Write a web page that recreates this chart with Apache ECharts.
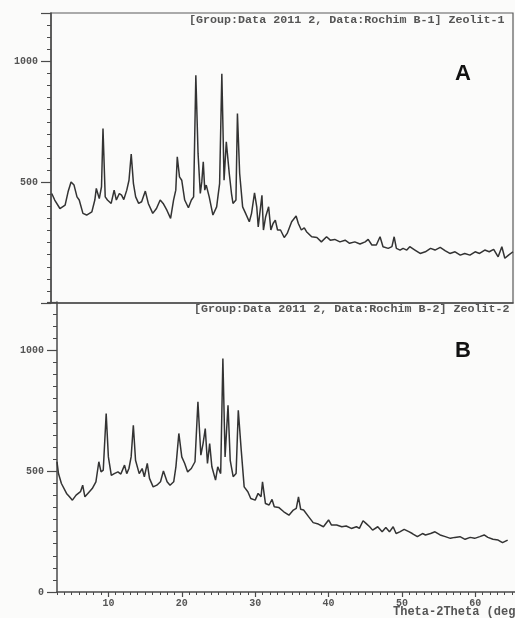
<!DOCTYPE html>
<html>
<head>
<meta charset="utf-8">
<script src="https://cdn.jsdelivr.net/npm/echarts@6/dist/echarts.min.js"></script>
<style>
html,body{margin:0;padding:0;background:#fbfbfa;}
#chart{width:515px;height:618px;}
</style>
</head>
<body>
<div id="chart"></div>
<script>
// ---- Data (2θ in degrees, intensity in counts) ----
const aDeg = [3.1,3.5,4.2,4.9,5.3,5.7,6.1,6.5,6.8,7.3,7.8,8.5,8.9,9.1,9.5,9.8,10.0,10.3,10.6,11.1,11.5,11.8,12.2,12.5,12.8,13.2,13.5,13.8,14.1,14.4,14.8,15.2,15.7,16.1,16.7,17.2,17.7,18.1,18.6,19.1,19.5,19.8,20.0,20.3,20.6,21.0,21.5,21.9,22.2,22.5,22.8,23.1,23.3,23.5,23.7,23.9,24.3,24.8,25.3,25.5,25.7,26.0,26.3,26.6,27.0,27.3,27.5,27.9,28.1,28.4,28.8,29.2,29.7,30.0,30.4,30.7,30.9,31.4,31.6,31.9,32.3,32.6,32.9,33.2,33.5,33.9,34.4,34.8,35.4,36.0,36.3,36.7,37.1,37.4,38.1,38.8,39.4,40.1,40.6,41.2,41.9,42.6,43.2,43.9,44.6,45.3,45.7,46.2,46.8,47.3,47.7,48.4,48.9,49.2,49.5,50.0,50.4,50.9,51.3,52.0,52.7,53.4,54.1,54.7,55.4,56.1,56.7,57.4,58.1,58.7,59.4,60.1,60.7,61.4,62.0,62.6,63.2,63.7,64.1,64.6,65.2];
const aVal = [453,426,391,405,460,501,488,439,426,371,364,377,426,474,432,481,722,439,426,412,467,426,453,446,428,467,508,616,494,439,412,419,463,412,371,391,426,412,384,350,426,467,605,522,508,426,394,426,439,942,618,453,501,584,467,488,439,364,398,446,494,949,508,667,536,453,412,426,784,536,398,371,336,371,456,398,315,446,302,357,398,302,329,343,302,302,271,288,336,360,329,302,311,295,274,271,253,274,260,263,253,260,247,253,244,253,263,240,240,274,233,226,233,274,226,219,226,219,233,219,205,212,226,219,230,216,205,212,198,205,198,212,205,219,212,222,191,233,185,198,212];

const bDeg = [3.0,3.2,3.6,4.3,4.7,5.1,5.6,5.9,6.2,6.5,6.8,7.2,7.8,8.3,8.7,9.0,9.3,9.7,10.0,10.4,10.8,11.3,11.7,12.2,12.5,12.8,13.1,13.4,13.7,14.2,14.6,14.9,15.3,15.6,16.1,16.6,17.1,17.5,18.0,18.4,18.9,19.2,19.6,20.0,20.4,20.8,21.3,21.8,22.2,22.6,22.9,23.2,23.5,23.8,24.1,24.6,24.9,25.3,25.6,25.9,26.3,26.6,27.0,27.4,27.7,28.1,28.5,29.0,29.4,30.0,30.4,30.8,31.0,31.4,31.9,32.3,32.6,33.2,33.9,34.6,35.2,35.6,35.9,36.2,36.6,37.3,37.9,38.6,39.3,40.0,40.4,41.1,41.8,42.4,43.1,43.8,44.2,44.7,45.1,45.6,46.0,46.7,47.3,47.8,48.3,48.8,49.2,49.7,50.3,51.0,51.4,52.1,52.8,53.2,53.9,54.5,55.2,55.9,56.6,57.2,57.9,58.6,59.3,59.9,60.6,61.2,61.7,62.4,63.1,63.7,64.4];
const bVal = [539,490,449,408,394,380,401,408,415,442,394,408,428,456,539,497,504,738,559,483,490,497,488,525,490,511,559,690,545,490,511,477,532,470,435,442,456,501,456,442,456,518,656,559,532,497,511,539,787,566,614,676,532,614,518,463,518,490,966,559,773,545,477,490,752,587,435,415,387,380,408,394,456,366,360,383,353,350,332,318,339,346,394,342,339,311,287,281,270,298,277,277,270,273,263,270,263,295,284,270,256,270,249,267,249,270,242,249,259,249,242,229,242,236,242,249,236,229,222,226,229,218,226,222,229,236,226,218,215,204,215];

const xTickLabels = [10, 20, 30, 40, 50, 60];
const yTickLabelsA = [500, 1000];
const yTickLabelsB = [0, 500, 1000];
const headerA = '[Group:Data 2011 2, Data:Rochim B-1] Zeolit-1';
const headerB = '[Group:Data 2011 2, Data:Rochim B-2] Zeolit-2';
const xTitle = 'Theta-2Theta (deg)';

// ---- Chart ----
const mono = '"Liberation Mono", "DejaVu Sans Mono", monospace';
const ink = '#333';
const axisCol = '#4a4a4a';
const minorX = [];
for (let d = 3; d <= 65; d++) minorX.push(d);

const pairs = (xs, ys) => xs.map((x, i) => [x, ys[i]]);

function yAxisFor(gridIndex, labels) {
  return {
    gridIndex, type: 'value', min: 0, max: 1200, interval: 500,
    axisLine: { show: true, lineStyle: { color: axisCol, width: 1.5 } },
    axisTick: { show: true, length: 10, lineStyle: { color: axisCol, width: 1.2 } },
    minorTick: { show: true, splitNumber: 10, length: 4, lineStyle: { color: axisCol, width: 1 } },
    axisLabel: {
      margin: 13, fontFamily: mono, fontSize: 10, fontWeight: 'bold', color: '#555',
      formatter: v => labels.includes(v) ? String(v) : ''
    },
    splitLine: { show: false }, minorSplitLine: { show: false }
  };
}

const chart = echarts.init(document.getElementById('chart'), null, { renderer: 'canvas' });
chart.setOption({
  backgroundColor: '#fbfbfa',
  animation: false,
  grid: [
    { left: 51, top: 13, width: 462, height: 290, show: true, borderColor: '#5a5a5a', borderWidth: 1.2, backgroundColor: 'transparent' },
    { left: 57, top: 302, width: 464, height: 290 }
  ],
  xAxis: [
    { gridIndex: 0, type: 'value', position: 'bottom', min: 3, max: 65.2,
      axisLine: { show: true, lineStyle: { color: axisCol, width: 1.5 } },
      axisTick: { show: false }, axisLabel: { show: false }, splitLine: { show: false } },
    { gridIndex: 1, type: 'value', position: 'bottom', min: 3, max: 65.4,
      axisLine: { show: true, lineStyle: { color: axisCol, width: 1.5 } },
      axisTick: { show: true, customValues: xTickLabels, length: 5, lineStyle: { color: axisCol, width: 1.2 } },
      axisLabel: { show: true, customValues: xTickLabels, margin: 6, fontFamily: mono, fontSize: 10, fontWeight: 'bold', color: '#555' },
      splitLine: { show: false } },
    { gridIndex: 1, type: 'value', position: 'bottom', min: 3, max: 65.4,
      axisLine: { show: false },
      axisTick: { show: true, customValues: minorX, length: 3, lineStyle: { color: axisCol, width: 1 } },
      axisLabel: { show: false }, splitLine: { show: false } }
  ],
  yAxis: [ yAxisFor(0, yTickLabelsA), yAxisFor(1, yTickLabelsB) ],
  series: [
    { type: 'line', xAxisIndex: 0, yAxisIndex: 0, data: pairs(aDeg, aVal), showSymbol: false, symbol: 'none',
      lineStyle: { color: ink, width: 1.5 }, clip: true },
    { type: 'line', xAxisIndex: 1, yAxisIndex: 1, data: pairs(bDeg, bVal), showSymbol: false, symbol: 'none',
      lineStyle: { color: ink, width: 1.5 }, clip: true }
  ],
  graphic: [
    { type: 'text', left: 189, top: 14, style: { text: headerA, font: 'bold 11.7px ' + mono, fill: '#555' } },
    { type: 'text', left: 194, top: 303, style: { text: headerB, font: 'bold 11.7px ' + mono, fill: '#555' } },
    { type: 'text', left: 393, top: 606, style: { text: xTitle, font: 'bold 12px ' + mono, fill: '#555' } },
    { type: 'text', left: 455, top: 63, style: { text: 'A', font: 'bold 22px "Liberation Sans", Arial, sans-serif', fill: '#111' } },
    { type: 'text', left: 455, top: 340, style: { text: 'B', font: 'bold 22px "Liberation Sans", Arial, sans-serif', fill: '#111' } }
  ]
});
</script>
</body>
</html>
